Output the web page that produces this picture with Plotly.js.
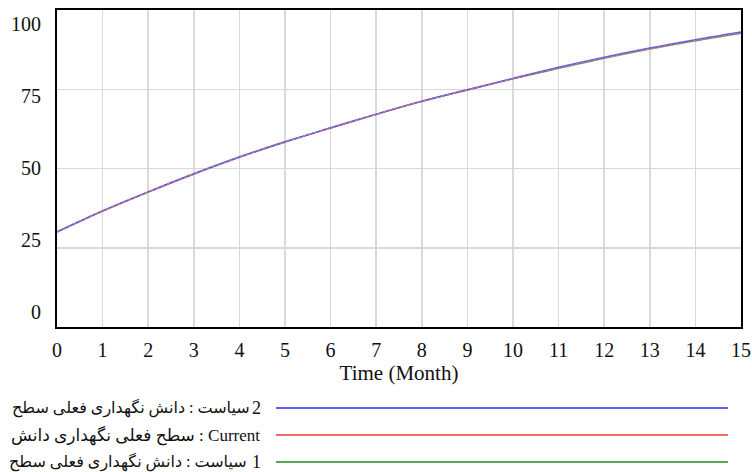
<!DOCTYPE html>
<html>
<head>
<meta charset="utf-8">
<script src="https://cdn.plot.ly/plotly-3.0.1.min.js"></script>
<style>html,body{margin:0;padding:0;background:#fff;}#chart{width:752px;height:472px;}</style>
</head>
<body>
<div id="chart"></div>
<script>
const months = [0,1,2,3,4,5,6,7,8,9,10,11,12,13,14,15];
const policy2 = [30,36.6,42.6,48.3,53.6,58.4,62.8,67.1,71.2,74.8,78.4,81.9,85.1,88.0,90.6,93.0];
const current = [30,36.6,42.6,48.3,53.6,58.4,62.8,67.1,71.2,74.8,78.3,81.6,84.8,87.7,90.3,92.7];
const policy1 = [30,36.6,42.6,48.3,53.6,58.4,62.8,67.1,71.2,74.8,78.3,81.6,84.8,87.7,90.3,92.7];
const yTicks = [0,25,50,75,100];
const xTicks = months;
// legend labels (word order arranged so they appear as in the source chart)
const legendText = [
  'سیاست : دانش نگهداری فعلی سطح',
  'سطح فعلی نگهداری دانش : Current',
  'سیاست : دانش نگهداری فعلی سطح'
];
const legendNum = ['2', '', '1'];
const colors = ['#5f5ff2','#f26b6b','#56a856'];

const traces = [
  {x: months, y: policy1, mode:'lines', line:{color:colors[2], width:1.6, shape:'spline'}},
  {x: months, y: policy2, mode:'lines', line:{color:colors[0], width:1.7, shape:'spline'}},
  {x: months, y: current, mode:'lines', line:{color:colors[1], width:1.3, shape:'spline', dash:'dot'}},
  {x: [], y: [], yaxis:'y2', mode:'lines', hoverinfo:'skip'}
];

// plot area: x 57..741 (684 px), y 10..327 (317 px)
const px = p => (p - 57) / 684;
const py = p => (327 - p) / 317;
const legRows = [408, 435, 462];
const numW = [10, 0, 13];
const txtSizes = [16, 17, 16];
const fam = 'Liberation Serif, DejaVu Serif, DejaVu Sans, serif';
const shapes = [], annotations = [];
for (let i = 0; i < 3; i++) {
  shapes.push({type:'line', xref:'paper', yref:'paper', x0:px(276), x1:px(728), y0:py(legRows[i]), y1:py(legRows[i]),
    line:{color:colors[i], width:1.8}});
  annotations.push({xref:'paper', yref:'paper', x:px(262 - numW[i]), y:py(legRows[i]), xanchor:'right', yanchor:'middle',
    text:legendText[i], showarrow:false, font:{family:fam, size:txtSizes[i], color:'#111'}});
  if (legendNum[i]) {
    annotations.push({xref:'paper', yref:'paper', x:px(263), y:py(legRows[i]), xanchor:'right', yanchor:'middle',
      text:legendNum[i], showarrow:false, font:{family:fam, size:18, color:'#111'}});
  }
}

const tickFont = {size:20, family:'Liberation Serif, serif', color:'#111'};
const layout = {
  width:752, height:472,
  margin:{l:57, r:11, t:10, b:145},
  paper_bgcolor:'#fff', plot_bgcolor:'#fff',
  showlegend:false,
  font:{family:'Liberation Serif, serif', color:'#111'},
  xaxis:{range:[0,15], tickvals:xTicks, ticktext:xTicks.map(String), showgrid:true, gridcolor:'#d9d9d9', gridwidth:1.5,
    zeroline:false, showline:true, mirror:true, linecolor:'#000', linewidth:2, ticks:'',
    tickfont:tickFont, ticklabelstandoff:4,
    title:{text:'Time (Month)', font:{size:21, family:'Liberation Serif, serif', color:'#111'}, standoff:5}},
  yaxis:{range:[0,100], tickvals:yTicks, showgrid:true, gridcolor:'#d9d9d9', gridwidth:1.5,
    zeroline:false, showline:true, mirror:true, linecolor:'#000', linewidth:2, ticks:'', showticklabels:false},
  yaxis2:{overlaying:'y', side:'left', anchor:'x', range:[-5.38,104.69], tickvals:yTicks, ticktext:yTicks.map(String),
    showgrid:false, zeroline:false, showline:false, ticks:'', tickfont:tickFont, ticklabelstandoff:15},
  shapes: shapes,
  annotations: annotations
};
Plotly.newPlot('chart', traces, layout, {displayModeBar:false, staticPlot:true});
</script>
</body>
</html>
